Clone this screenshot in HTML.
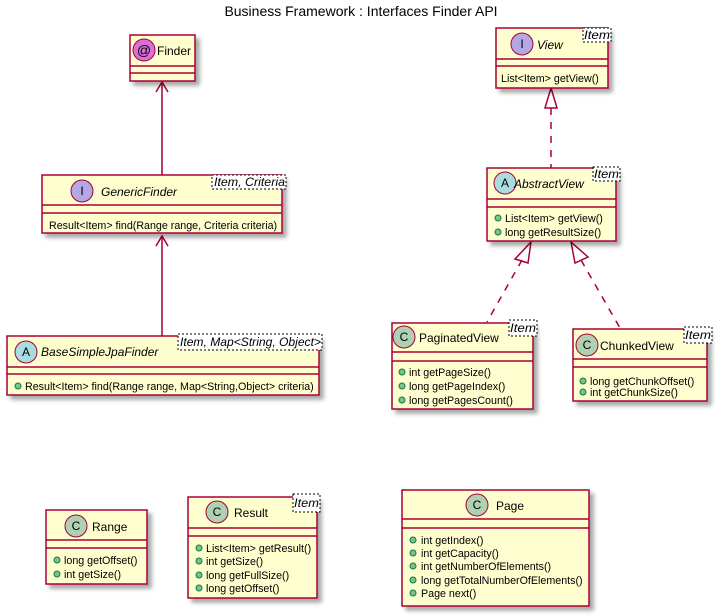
<!DOCTYPE html>
<html><head><meta charset="utf-8"><style>
html,body{margin:0;padding:0;background:#fff;width:722px;height:616px;overflow:hidden}
text{font-family:"Liberation Sans",sans-serif;fill:#000}
.b{fill:#FEFECE;stroke:#A80036;stroke-width:1.5}
.l{stroke:#A80036;stroke-width:1.5}
.t{fill:#fff;stroke:#000;stroke-width:1;stroke-dasharray:2,2}
.m{fill:#84BE84;stroke:#038048;stroke-width:1}
.n{font-size:12px}
.s{font-size:10.7px}
.i{font-style:italic}
</style></head><body>
<svg width="722" height="616" xmlns="http://www.w3.org/2000/svg">
<defs><filter id="sh" x="-10%" y="-10%" width="130%" height="140%"><feGaussianBlur in="SourceAlpha" stdDeviation="2"/><feOffset dx="4" dy="4"/><feComponentTransfer><feFuncA type="linear" slope="0.35"/></feComponentTransfer><feMerge><feMergeNode/><feMergeNode in="SourceGraphic"/></feMerge></filter></defs>
<text x="361" y="16" font-size="14" text-anchor="middle">Business Framework : Interfaces Finder API</text>

<!-- connectors -->
<line class="l" x1="162" y1="175" x2="162" y2="82"/>
<polyline points="156,92 162,82 168,92" fill="none" class="l"/>
<line class="l" x1="162" y1="336" x2="162" y2="236"/>
<polyline points="156,246 162,236 168,246" fill="none" class="l"/>
<line class="l" x1="551" y1="108" x2="551" y2="168" stroke-dasharray="7,7"/>
<polygon points="551,88 545,108 557,108" fill="none" class="l"/>
<line class="l" x1="522" y1="260" x2="487" y2="322" stroke-dasharray="7,7"/>
<polygon points="531,242 515,259 528,263" fill="none" class="l"/>
<line class="l" x1="581" y1="260" x2="620" y2="328" stroke-dasharray="7,7"/>
<polygon points="571,242 575,263 588,257" fill="none" class="l"/>

<!-- Finder -->
<g filter="url(#sh)"><rect class="b" x="130" y="35" width="65" height="46"/></g>
<line class="l" x1="130" y1="66" x2="195" y2="66"/><line class="l" x1="130" y1="73" x2="195" y2="73"/>
<circle cx="144" cy="50" r="11" fill="#DA70D6" stroke="#A80036"/>
<text x="144" y="55" font-size="14" text-anchor="middle">@</text>
<text x="157" y="55" class="n">Finder</text>

<!-- GenericFinder -->
<g filter="url(#sh)"><rect class="b" x="42" y="175" width="240" height="58"/></g>
<line class="l" x1="42" y1="205" x2="282" y2="205"/><line class="l" x1="42" y1="213" x2="282" y2="213"/>
<circle cx="82" cy="191" r="11" fill="#B4A7E5" stroke="#A80036"/>
<text x="82" y="195" font-size="12" text-anchor="middle">I</text>
<text x="101" y="196" class="n i">GenericFinder</text>
<rect class="t" x="212" y="175" width="74" height="14"/>
<text x="214" y="186" class="i" font-size="12" textLength="71" lengthAdjust="spacingAndGlyphs">Item, Criteria</text>
<text x="49" y="229" class="s">Result&lt;Item&gt; find(Range range, Criteria criteria)</text>

<!-- BaseSimpleJpaFinder -->
<g filter="url(#sh)"><rect class="b" x="7" y="336" width="312" height="59"/></g>
<line class="l" x1="7" y1="367" x2="319" y2="367"/><line class="l" x1="7" y1="374" x2="319" y2="374"/>
<circle cx="26" cy="352" r="11" fill="#A9DCDF" stroke="#A80036"/>
<text x="26" y="356" font-size="12" text-anchor="middle">A</text>
<text x="41" y="356" class="n i">BaseSimpleJpaFinder</text>
<rect class="t" x="178" y="334" width="144" height="16"/>
<text x="180" y="346" class="i" font-size="12" textLength="141" lengthAdjust="spacingAndGlyphs">Item, Map&lt;String, Object&gt;</text>
<circle class="m" cx="18" cy="386" r="3"/>
<text x="25" y="390" class="s">Result&lt;Item&gt; find(Range range, Map&lt;String,Object&gt; criteria)</text>

<!-- View -->
<g filter="url(#sh)"><rect class="b" x="496" y="28" width="112" height="60"/></g>
<line class="l" x1="496" y1="59" x2="608" y2="59"/><line class="l" x1="496" y1="66" x2="608" y2="66"/>
<circle cx="522" cy="44" r="11" fill="#B4A7E5" stroke="#A80036"/>
<text x="522" y="48" font-size="12" text-anchor="middle">I</text>
<text x="537" y="49" class="n i">View</text>
<rect class="t" x="583" y="28" width="28" height="14"/>
<text x="584" y="39" class="i" font-size="12" textLength="26" lengthAdjust="spacingAndGlyphs">Item</text>
<text x="501" y="82" class="s">List&lt;Item&gt; getView()</text>

<!-- AbstractView -->
<g filter="url(#sh)"><rect class="b" x="487" y="168" width="129" height="73"/></g>
<line class="l" x1="487" y1="199" x2="616" y2="199"/><line class="l" x1="487" y1="207" x2="616" y2="207"/>
<circle cx="505" cy="183" r="11" fill="#A9DCDF" stroke="#A80036"/>
<text x="505" y="187" font-size="12" text-anchor="middle">A</text>
<text x="514" y="188" class="n i">AbstractView</text>
<rect class="t" x="593" y="167" width="27" height="14"/>
<text x="594" y="178" class="i" font-size="12" textLength="25" lengthAdjust="spacingAndGlyphs">Item</text>
<circle class="m" cx="498" cy="218" r="3"/><text x="505" y="222" class="s">List&lt;Item&gt; getView()</text>
<circle class="m" cx="498" cy="232" r="3"/><text x="505" y="236" class="s">long getResultSize()</text>

<!-- PaginatedView -->
<g filter="url(#sh)"><rect class="b" x="392" y="323" width="141" height="86"/></g>
<line class="l" x1="392" y1="352" x2="533" y2="352"/><line class="l" x1="392" y1="361" x2="533" y2="361"/>
<circle cx="404" cy="337" r="11" fill="#ADD1B2" stroke="#A80036"/>
<text x="404" y="341" font-size="12" text-anchor="middle">C</text>
<text x="419" y="342" class="n">PaginatedView</text>
<rect class="t" x="509" y="320" width="28" height="16"/>
<text x="510" y="332" class="i" font-size="12" textLength="26" lengthAdjust="spacingAndGlyphs">Item</text>
<circle class="m" cx="402" cy="372" r="3"/><text x="409" y="376" class="s">int getPageSize()</text>
<circle class="m" cx="402" cy="386" r="3"/><text x="409" y="390" class="s">long getPageIndex()</text>
<circle class="m" cx="402" cy="400" r="3"/><text x="409" y="404" class="s">long getPagesCount()</text>

<!-- ChunkedView -->
<g filter="url(#sh)"><rect class="b" x="573" y="329" width="134" height="72"/></g>
<line class="l" x1="573" y1="359" x2="707" y2="359"/><line class="l" x1="573" y1="367" x2="707" y2="367"/>
<circle cx="587" cy="345" r="11" fill="#ADD1B2" stroke="#A80036"/>
<text x="587" y="349" font-size="12" text-anchor="middle">C</text>
<text x="600" y="350" class="n">ChunkedView</text>
<rect class="t" x="684" y="327" width="28" height="16"/>
<text x="685" y="339" class="i" font-size="12" textLength="26" lengthAdjust="spacingAndGlyphs">Item</text>
<circle class="m" cx="583" cy="381" r="3"/><text x="590" y="385" class="s">long getChunkOffset()</text>
<circle class="m" cx="583" cy="392" r="3"/><text x="590" y="396" class="s">int getChunkSize()</text>

<!-- Range -->
<g filter="url(#sh)"><rect class="b" x="46" y="510" width="101" height="74"/></g>
<line class="l" x1="46" y1="540" x2="147" y2="540"/><line class="l" x1="46" y1="548" x2="147" y2="548"/>
<circle cx="76" cy="526" r="11" fill="#ADD1B2" stroke="#A80036"/>
<text x="76" y="530" font-size="12" text-anchor="middle">C</text>
<text x="92" y="531" class="n">Range</text>
<circle class="m" cx="57" cy="560" r="3"/><text x="64" y="564" class="s">long getOffset()</text>
<circle class="m" cx="57" cy="574" r="3"/><text x="64" y="578" class="s">int getSize()</text>

<!-- Result -->
<g filter="url(#sh)"><rect class="b" x="188" y="497" width="129" height="101"/></g>
<line class="l" x1="188" y1="528" x2="317" y2="528"/><line class="l" x1="188" y1="536" x2="317" y2="536"/>
<circle cx="217" cy="512" r="11" fill="#ADD1B2" stroke="#A80036"/>
<text x="217" y="516" font-size="12" text-anchor="middle">C</text>
<text x="234" y="517" class="n">Result</text>
<rect class="t" x="293" y="494" width="27" height="18"/>
<text x="294" y="507" class="i" font-size="12" textLength="25" lengthAdjust="spacingAndGlyphs">Item</text>
<circle class="m" cx="199" cy="548" r="3"/><text x="206" y="552" class="s">List&lt;Item&gt; getResult()</text>
<circle class="m" cx="199" cy="561" r="3"/><text x="206" y="565" class="s">int getSize()</text>
<circle class="m" cx="199" cy="575" r="3"/><text x="206" y="579" class="s">long getFullSize()</text>
<circle class="m" cx="199" cy="588" r="3"/><text x="206" y="592" class="s">long getOffset()</text>

<!-- Page -->
<g filter="url(#sh)"><rect class="b" x="402" y="490" width="187" height="116"/></g>
<line class="l" x1="402" y1="519" x2="589" y2="519"/><line class="l" x1="402" y1="528" x2="589" y2="528"/>
<circle cx="477" cy="505" r="11" fill="#ADD1B2" stroke="#A80036"/>
<text x="477" y="509" font-size="12" text-anchor="middle">C</text>
<text x="496" y="510" class="n">Page</text>
<circle class="m" cx="413" cy="540" r="3"/><text x="421" y="544" class="s">int getIndex()</text>
<circle class="m" cx="413" cy="553" r="3"/><text x="421" y="557" class="s">int getCapacity()</text>
<circle class="m" cx="413" cy="566" r="3"/><text x="421" y="570" class="s">int getNumberOfElements()</text>
<circle class="m" cx="413" cy="580" r="3"/><text x="421" y="584" class="s">long getTotalNumberOfElements()</text>
<circle class="m" cx="413" cy="593" r="3"/><text x="421" y="597" class="s">Page next()</text>
</svg>
</body></html>
